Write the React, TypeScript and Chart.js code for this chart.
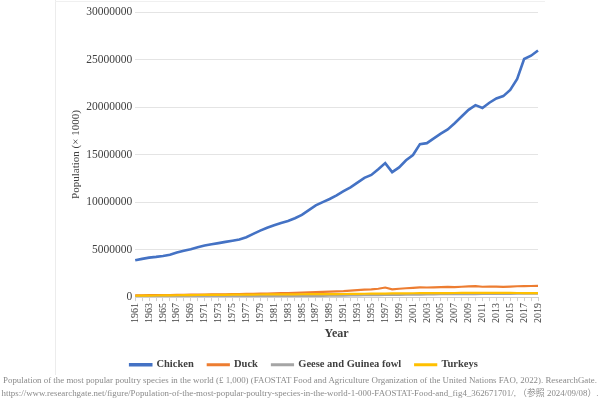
import React, { useEffect, useRef } from "react";
import { Chart, registerables } from "chart.js";

Chart.register(...registerables);

const years: string[] = [];
for (let y = 1961; y <= 2019; y++) years.push(String(y));

const chicken = [
  3870000, 4020000, 4150000, 4230000, 4330000, 4460000, 4700000, 4880000, 5040000, 5250000,
  5420000, 5560000, 5680000, 5810000, 5930000, 6060000, 6300000, 6650000, 7000000, 7300000,
  7560000, 7800000, 8000000, 8300000, 8650000, 9150000, 9650000, 10000000, 10320000, 10700000,
  11150000, 11550000, 12050000, 12550000, 12850000, 13450000, 14100000, 13150000, 13650000, 14400000,
  14950000, 16100000, 16200000, 16700000, 17200000, 17650000, 18300000, 19000000, 19700000, 20200000,
  19900000, 20450000, 20900000, 21150000, 21800000, 22950000, 25050000, 25400000, 25950000,
];

const duck = [
  190000, 195000, 200000, 205000, 215000, 220000, 230000, 240000, 250000, 260000,
  270000, 280000, 290000, 300000, 310000, 320000, 335000, 350000, 365000, 380000,
  395000, 410000, 425000, 440000, 470000, 500000, 530000, 555000, 575000, 600000,
  620000, 680000, 730000, 780000, 820000, 880000, 1010000, 820000, 880000, 930000,
  980000, 1020000, 1010000, 1030000, 1050000, 1070000, 1060000, 1090000, 1120000, 1160000,
  1090000, 1110000, 1100000, 1080000, 1110000, 1140000, 1160000, 1170000, 1180000,
];

const geese = [
  50000, 52000, 54000, 56000, 58000, 60000, 63000, 66000, 69000, 72000,
  75000, 78000, 81000, 84000, 87000, 90000, 93000, 96000, 99000, 102000,
  106000, 110000, 114000, 118000, 122000, 127000, 132000, 138000, 144000, 150000,
  160000, 170000, 180000, 195000, 205000, 215000, 225000, 230000, 240000, 250000,
  260000, 270000, 280000, 290000, 300000, 305000, 310000, 315000, 318000, 320000,
  325000, 330000, 335000, 340000, 345000, 350000, 360000, 365000, 370000,
];

const turkeys = [
  140000, 150000, 160000, 170000, 180000, 188000, 195000, 202000, 210000, 220000,
  225000, 230000, 236000, 242000, 250000, 255000, 260000, 266000, 272000, 280000,
  284000, 288000, 292000, 296000, 300000, 304000, 308000, 312000, 316000, 320000,
  328000, 336000, 344000, 352000, 360000, 368000, 376000, 384000, 392000, 400000,
  404000, 408000, 412000, 416000, 420000, 426000, 432000, 438000, 444000, 450000,
  448000, 446000, 444000, 442000, 440000, 432000, 424000, 416000, 410000,
];

const seriesNames = ["Chicken", "Duck", "Geese and Guinea fowl", "Turkeys"];
const seriesColors = ["#4472C4", "#ED7D31", "#A5A5A5", "#FFC000"];

const yAxisTitle = "Population (× 1000)";
const xAxisTitle = "Year";
const captionLines = [
  "Population of the most popular poultry species in the world (£ 1,000) (FAOSTAT Food and Agriculture Organization of the United Nations FAO, 2022). ResearchGate.",
  "https://www.researchgate.net/figure/Population-of-the-most-popular-poultry-species-in-the-world-1-000-FAOSTAT-Food-and_fig4_362671701/, （参照 2024/09/08）.",
];

const SERIF = "'Liberation Serif', 'Noto Sans CJK JP', serif";

export default function App() {
  const ref = useRef<HTMLCanvasElement | null>(null);

  useEffect(() => {
    document.body.style.margin = "0";
    const canvas = ref.current;
    if (!canvas) return;
    const values = [chicken, duck, geese, turkeys];
    const orders = [3, 2, 1, 0];
    const chart = new Chart(canvas, {
      type: "line",
      data: {
        labels: years,
        datasets: seriesNames.map((name, i) => ({
          label: name,
          data: values[i],
          borderColor: seriesColors[i],
          backgroundColor: seriesColors[i],
          borderWidth: i === 0 ? 2.6 : 2.2,
          pointRadius: 0,
          tension: 0,
          order: orders[i],
        })),
      },
      options: {
        animation: false,
        responsive: false,
        maintainAspectRatio: false,
        layout: { padding: { left: 70, right: 62, top: 12, bottom: 20 } },
        plugins: {
          tooltip: { enabled: false },
          title: { display: false },
          legend: {
            position: "bottom",
            labels: {
              boxWidth: 21,
              boxHeight: 1,
              padding: 14,
              color: "#404040",
              font: { family: SERIF, size: 10.5, weight: "bold" },
              sort: (a: any, b: any) => a.datasetIndex - b.datasetIndex,
            },
          },
        },
        scales: {
          x: {
            offset: false,
            grid: { display: true, drawOnChartArea: false, drawTicks: true, tickLength: 4, color: "#d0d0d0" },
            border: { display: true, color: "#d0d0d0" },
            ticks: {
              autoSkip: false,
              minRotation: 90,
              maxRotation: 90,
              padding: 2,
              color: "#404040",
              font: { family: SERIF, size: 10 },
              callback: (_v: any, i: number) => (i % 2 === 0 ? years[i] : ""),
            },
            title: {
              display: true,
              text: xAxisTitle,
              color: "#404040",
              font: { family: SERIF, size: 12, weight: "bold" },
              padding: { top: 2, bottom: 4 },
            },
          },
          y: {
            min: 0,
            max: 30000000,
            grid: { color: "#e4e4e4", drawTicks: false },
            border: { display: false },
            ticks: {
              stepSize: 5000000,
              padding: 3,
              color: "#404040",
              font: { family: SERIF, size: 11.5 },
              callback: (v: any) => String(v),
            },
            title: {
              display: true,
              text: yAxisTitle,
              color: "#404040",
              font: { family: SERIF, size: 11 },
              padding: { top: 0, bottom: 0 },
            },
          },
        },
      },
    });
    return () => chart.destroy();
  }, []);

  return (
    <div style={{ position: "relative", width: 600, height: 400, overflow: "hidden" }}>
      <div style={{ position: "absolute", left: 55, top: 0, width: 1, height: 375, background: "#ececec" }} />
      <div style={{ position: "absolute", left: 55, top: 1, width: 490, height: 1, background: "#f0f0f0" }} />
      <canvas
        ref={ref}
        width={600}
        height={400}
        style={{ position: "relative", width: 600, height: 400, display: "block" }}
      />
      <div
        style={{
          position: "absolute",
          left: 0,
          top: 373.5,
          width: 600,
          display: "flex",
          flexDirection: "column",
          alignItems: "center",
          whiteSpace: "nowrap",
          fontFamily: SERIF,
          fontSize: 8.9,
          lineHeight: "13px",
          color: "#8a8a8a",
        }}
      >
        {captionLines.map((l, i) => (
          <div key={i}>{l}</div>
        ))}
      </div>
    </div>
  );
}
